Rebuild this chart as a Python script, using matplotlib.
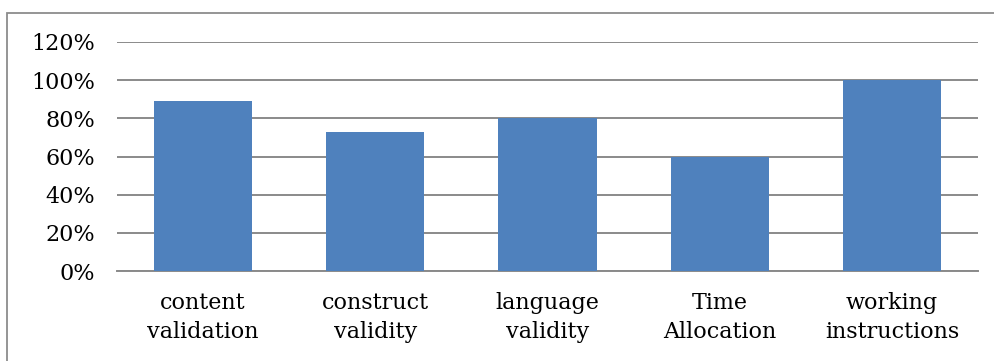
import matplotlib
matplotlib.use("Agg")
import matplotlib.pyplot as plt
from matplotlib.patches import Rectangle
from matplotlib.ticker import FuncFormatter

categories = ["content\nvalidation", "construct\nvalidity", "language\nvalidity",
              "Time\nAllocation", "working\ninstructions"]
values = [89, 73, 80, 60, 100]
yticks = [0, 20, 40, 60, 80, 100, 120]

plt.rcParams["font.family"] = ["DejaVu Serif"]

W, H = 994, 361
fig = plt.figure(figsize=(W / 100, H / 100), dpi=100)
ax = fig.add_axes([117 / W, 1 - 271 / H, (978 - 117) / W, (271 - 42) / H])

x = range(len(categories))
ax.bar(x, values, width=0.57, color="#4F81BD", zorder=3)

ax.set_xlim(-0.5, len(categories) - 0.5)
ax.set_ylim(0, 120)
ax.set_yticks(yticks)
ax.yaxis.set_major_formatter(FuncFormatter(lambda v, p: f"{v:.0f}%"))
ax.set_xticks(list(x))
ax.set_xticklabels(categories, fontsize=16, linespacing=1.45)
ax.tick_params(axis="y", labelsize=16, length=0, pad=16)
ax.tick_params(axis="x", length=0, pad=15)

ax.grid(axis="y", color="#8a8a8a", linewidth=1.4, zorder=0)
for side in ["top", "right", "left"]:
    ax.spines[side].set_visible(False)
ax.spines["bottom"].set_color("#8a8a8a")
ax.spines["bottom"].set_linewidth(1.4)

# outer chart border (only top and left are inside the crop)
fig.patches.append(Rectangle((7 / W, -0.1), 1.2, 1 - 12.5 / H + 0.1,
                             transform=fig.transFigure, fill=False,
                             edgecolor="#8c8c8c", linewidth=1.3))

fig.savefig("out.png", dpi=100)
